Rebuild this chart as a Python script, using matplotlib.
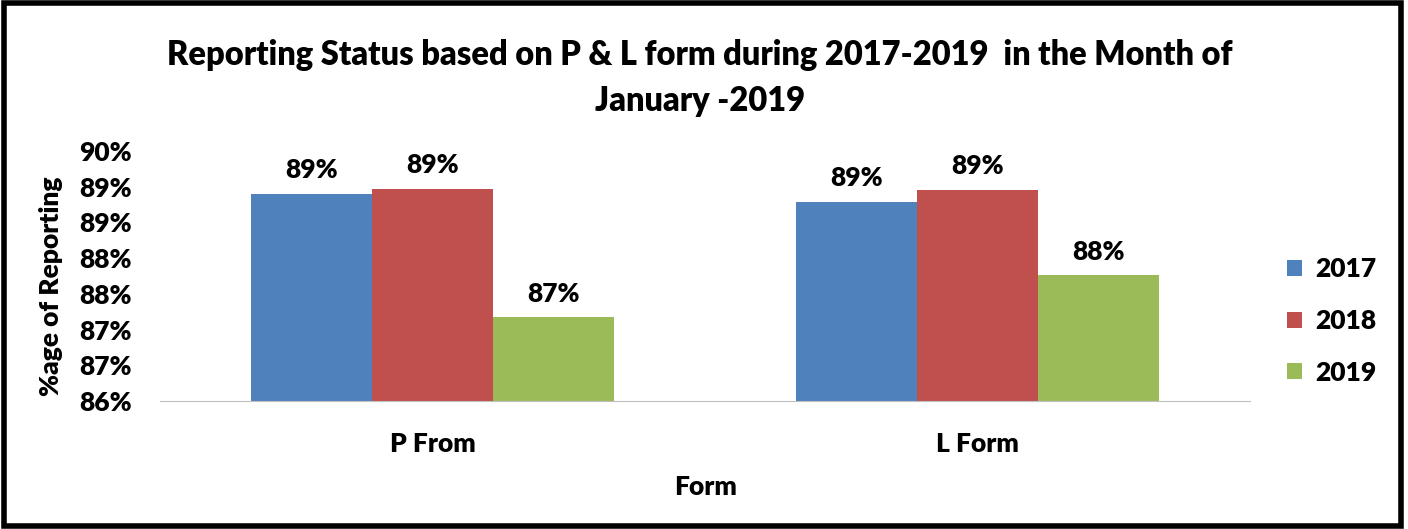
import numpy as np
import matplotlib.pyplot as plt
from matplotlib.patches import Rectangle

# dados
formas = ['P From', 'L Form']
anos = ['2017', '2018', '2019']
valores_2017 = [88.90, 88.79]
valores_2018 = [88.97, 88.96]
valores_2019 = [87.17, 87.76]
cores = ['#4F81BD', '#C0504D', '#9BBB59']

plt.rcParams['font.family'] = ['Lato', 'DejaVu Sans']
plt.rcParams['font.weight'] = 'heavy'

fig = plt.figure(figsize=(14.08, 5.29), dpi=100)
ax = fig.add_axes([0.1136, 0.242, 0.7745, 0.4726])

x = np.arange(len(formas))
largura = 0.222
series = [valores_2017, valores_2018, valores_2019]
for i, (ano, vals) in enumerate(zip(anos, series)):
    pos = x + (i - 1) * largura
    ax.bar(pos, np.array(vals) - 86, width=largura, bottom=86, color=cores[i], label=ano)
    for px, v in zip(pos, vals):
        ax.text(px, v + 0.16, f'{v:.0f}%', ha='center', va='bottom',
                fontsize=19, fontweight='heavy')

ax.set_xlim(-0.5, 1.5)
ax.set_ylim(86, 89.5)
yt = np.arange(86, 89.51, 0.5)
ax.set_yticks(yt)
ax.set_yticklabels([f'{np.floor(v + 0.5):.0f}%' for v in yt], fontsize=19, fontweight='heavy')
ax.set_xticks(x)
ax.set_xticklabels(formas, fontsize=19, fontweight='heavy')
ax.tick_params(axis='y', length=0, pad=20)
ax.tick_params(axis='x', length=0, pad=22)
for s in ['top', 'right', 'left']:
    ax.spines[s].set_visible(False)
ax.spines['bottom'].set_color('#BFBFBF')

ax.set_xlabel('Form', fontsize=19, fontweight='heavy', labelpad=14)
ax.set_ylabel('%age of Reporting', fontsize=19, fontweight='heavy')
ax.yaxis.set_label_coords(-0.089, 0.46)

fig.text(0.497, 0.853, 'Reporting Status based on P & L form during 2017-2019  in the Month of\nJanuary -2019',
         ha='center', va='center', fontsize=23.5, fontweight='heavy', linespacing=1.55)

leg = ax.legend(loc='center left', bbox_to_anchor=(1.012, 0.32), frameon=False,
                fontsize=19, handlelength=0.55, handleheight=0.55, labelspacing=1.05,
                handletextpad=0.5)

fig.patches.append(Rectangle((0.003, 0.005), 0.992, 0.99, transform=fig.transFigure,
                             fill=False, edgecolor='black', linewidth=4))

fig.savefig('out.png', dpi=100)
